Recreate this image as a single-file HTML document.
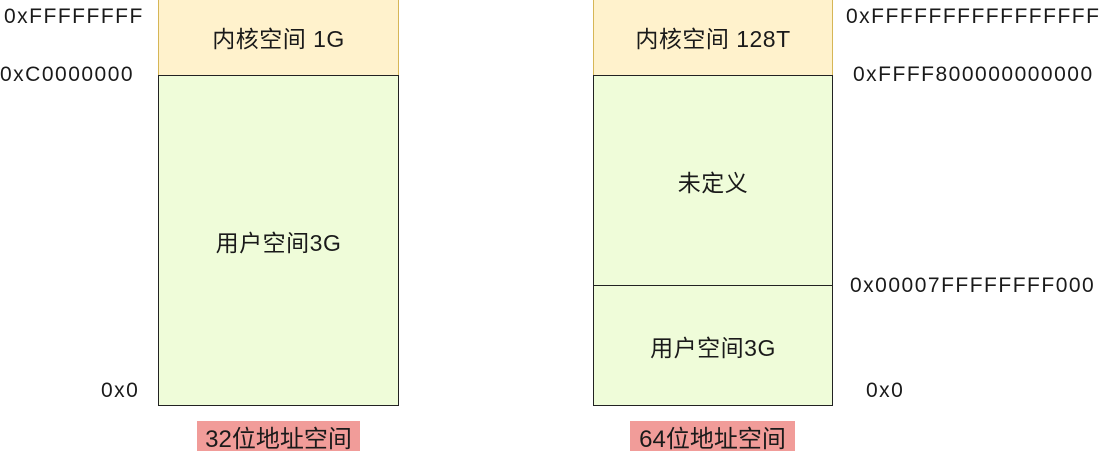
<!DOCTYPE html>
<html><head><meta charset="utf-8"><style>
body{margin:0;width:1106px;height:452px;background:#fff;position:relative;overflow:hidden;font-family:"Liberation Sans","Noto Sans CJK SC",sans-serif;font-size:21px;color:#1a1a1a}
.b{position:absolute;box-sizing:border-box;display:flex;align-items:center;justify-content:center;font-size:23px;letter-spacing:0.5px}
.k{background:#fff2cc;border:1.5px solid #d6b656}
.u{background:#effcd9;border:1.5px solid #222}
.t{position:absolute;white-space:nowrap;line-height:20px;letter-spacing:1.5px}
.l{position:absolute;background:#f19c99;height:30px;display:flex;align-items:center;justify-content:center;font-size:24px}
</style></head><body>
<div class="b k" style="left:158px;top:-2px;width:241px;height:78px">内核空间 1G</div>
<div class="b u" style="left:158px;top:75px;width:241px;height:331px">用户空间3G</div>
<div class="b k" style="left:593px;top:-2px;width:240px;height:78px">内核空间 128T</div>
<div class="b u" style="left:593px;top:75px;width:240px;height:211px">未定义</div>
<div class="b u" style="left:593px;top:285px;width:240px;height:121px">用户空间3G</div>
<div class="t" style="left:4px;top:7px">0xFFFFFFFF</div>
<div class="t" style="left:0px;top:65px">0xC0000000</div>
<div class="t" style="left:101px;top:381px">0x0</div>
<div class="t" style="left:846px;top:7px">0xFFFFFFFFFFFFFFFF</div>
<div class="t" style="left:853px;top:65px">0xFFFF800000000000</div>
<div class="t" style="left:850px;top:276px">0x00007FFFFFFFF000</div>
<div class="t" style="left:866px;top:381px">0x0</div>
<div class="l" style="left:197px;top:421px;width:163px">32位地址空间</div>
<div class="l" style="left:630px;top:421px;width:165px">64位地址空间</div>
</body></html>
